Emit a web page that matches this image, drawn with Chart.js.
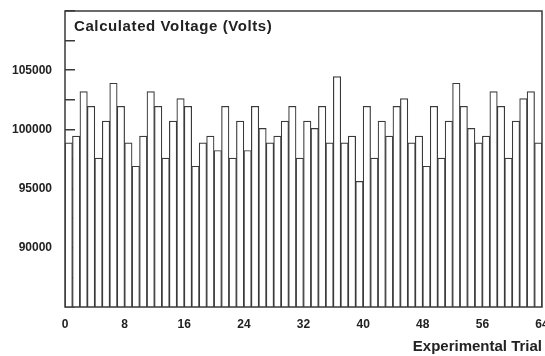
<!DOCTYPE html>
<html>
<head>
<meta charset="utf-8">
<script src="https://cdn.jsdelivr.net/npm/chart.js@4/dist/chart.umd.min.js"></script>
<style>
	html, body { margin: 0; padding: 0; background: #fff; }
	#chart { display: block; }
</style>
</head>
<body>
<canvas id="chart" width="545" height="356"></canvas>
<script>
const trials = [
	0, 1, 2, 3, 4, 5, 6, 7, 8, 9, 10, 11, 12, 13, 14, 15,
	16, 17, 18, 19, 20, 21, 22, 23, 24, 25, 26, 27, 28, 29, 30, 31,
	32, 33, 34, 35, 36, 37, 38, 39, 40, 41, 42, 43, 44, 45, 46, 47,
	48, 49, 50, 51, 52, 53, 54, 55, 56, 57, 58, 59, 60, 61, 62, 63,
];
const volts = [
	98870, 99430, 103190, 101950, 97570, 100700, 103900, 101950, 98870, 96890,
	99430, 103190, 101950, 97570, 100700, 102600, 101950, 96890, 98870, 99430,
	98220, 101950, 97570, 100700, 98220, 101950, 100085, 98870, 99430, 100700,
	101950, 97570, 100700, 100085, 101950, 98870, 104460, 98870, 99430, 95620,
	101950, 97570, 100700, 99430, 101950, 102600, 98870, 99430, 96890, 101950,
	97570, 100700, 103900, 101950, 100085, 98870, 99430, 103190, 101950, 97570,
	100700, 102600, 103190, 98870,
];
const yLabels = [90000, 95000, 100000, 105000];
const xLabels = [0, 8, 16, 24, 32, 40, 48, 56, 64];

const chartTitle = 'Calculated Voltage (Volts)';
const xTitle = 'Experimental Trial';

const ink = '#3a3a3a';
const fontFamily = 'Arial, "Liberation Sans", sans-serif';

// trial i covers the span [i, i + 1] on the axis
const points = trials.map((t, i) => ({ x: t + 0.5, y: volts[i] }));

const frame = {
	id: 'frame',
	afterDatasetsDraw(chart) {
		const { ctx, chartArea: a } = chart;
		ctx.save();
		ctx.strokeStyle = ink;
		ctx.lineWidth = 1.5;
		ctx.strokeRect(a.left, a.top, a.right - a.left, a.bottom - a.top);
		ctx.fillStyle = '#222';
		ctx.font = `bold 15px ${fontFamily}`;
		ctx.letterSpacing = '0.6px';
		ctx.textAlign = 'left';
		ctx.textBaseline = 'middle';
		ctx.fillText(chartTitle, a.left + 9, a.top + 16);
		ctx.restore();
	},
};

new Chart(document.getElementById('chart'), {
	type: 'bar',
	data: {
		datasets: [{
			data: points,
			backgroundColor: '#ffffff',
			borderColor: ink,
			borderWidth: 1.2,
			barPercentage: 1,
			categoryPercentage: 1,
		}],
	},
	options: {
		responsive: false,
		animation: false,
		events: [],
		layout: { padding: { top: 11, right: 3, left: 0, bottom: 0 } },
		plugins: {
			legend: { display: false },
			tooltip: { enabled: false },
		},
		scales: {
			x: {
				type: 'linear',
				offset: false,
				min: 0,
				max: 64,
				grid: { display: false, drawTicks: false },
				border: { display: false },
				ticks: {
					stepSize: 8,
					padding: 10,
					maxRotation: 0,
					color: '#222',
					font: { family: fontFamily, size: 12, weight: 'bold' },
					callback: (v) => (xLabels.includes(v) ? String(v) : ''),
				},
				title: {
					display: true,
					text: xTitle,
					align: 'end',
					color: '#222',
					font: { family: fontFamily, size: 15, weight: 'bold' },
					padding: 0,
				},
				afterFit(scale) {
					scale.height = 49;
					scale.paddingLeft = 0;
					scale.paddingRight = 0;
				},
			},
			y: {
				min: 85000,
				max: 110000,
				grid: {
					drawOnChartArea: false,
					drawTicks: true,
					tickLength: -10,
					color: ink,
					lineWidth: 1.5,
				},
				border: { display: false },
				ticks: {
					stepSize: 2500,
					padding: 23,
					color: '#222',
					font: { family: fontFamily, size: 12, weight: 'bold' },
					callback: (v) => (yLabels.includes(v) ? String(v) : ''),
				},
				afterFit(scale) {
					scale.width = 65;
					scale.paddingTop = 0;
					scale.paddingBottom = 0;
				},
			},
		},
	},
	plugins: [frame],
});
</script>
</body>
</html>
